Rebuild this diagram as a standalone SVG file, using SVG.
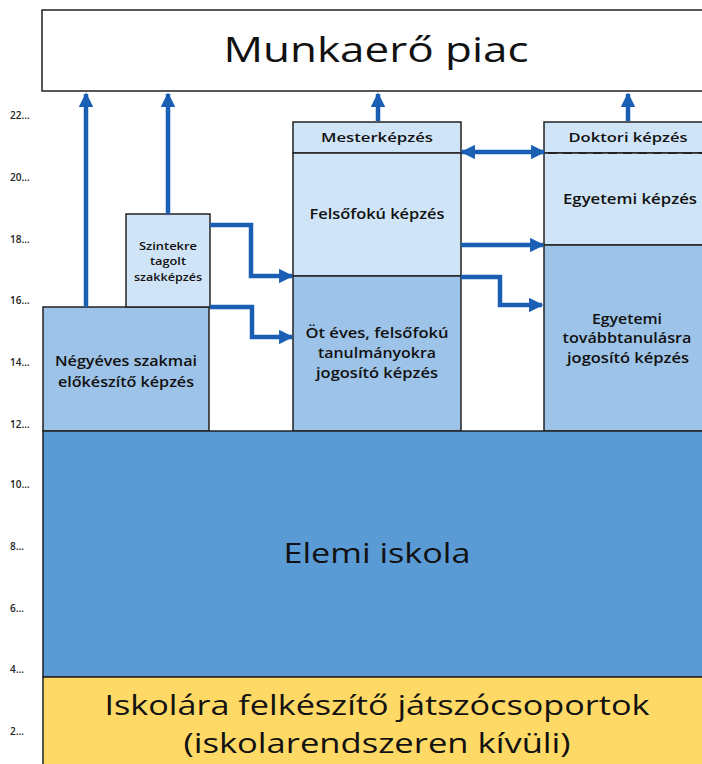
<svg xmlns="http://www.w3.org/2000/svg" width="702" height="764" viewBox="0 0 702 764">
<defs>
<style>
.box{stroke:#222;stroke-width:1.5}
.light{fill:#D0E4F7}
.mid{fill:#9DC3E8}
.t{font-family:"Open Sans","Liberation Sans",sans-serif;fill:#111;text-anchor:middle}
.s{font-weight:600}
.ax{font-family:"Open Sans","Liberation Sans",sans-serif;font-size:10px;font-weight:600;fill:#222}
.c{fill:none;stroke:#1A5FB4;stroke-width:4.5}
</style>
<marker id="ah" viewBox="0 0 10 10" refX="9" refY="5" markerWidth="3.4" markerHeight="3.2" orient="auto-start-reverse" markerUnits="strokeWidth">
<path d="M0,0 L10,5 L0,10 z" fill="#1A5FB4"/>
</marker>
</defs>
<rect width="702" height="764" fill="#fff"/>

<g id="axis">
<text class="ax" x="10" y="119">22…</text>
<text class="ax" x="10" y="181">20…</text>
<text class="ax" x="10" y="243">18…</text>
<text class="ax" x="10" y="304">16…</text>
<text class="ax" x="10" y="366">14…</text>
<text class="ax" x="10" y="428">12…</text>
<text class="ax" x="10" y="488">10…</text>
<text class="ax" x="10" y="550">8…</text>
<text class="ax" x="10" y="612">6…</text>
<text class="ax" x="10" y="673">4…</text>
<text class="ax" x="10" y="735">2…</text>
</g>

<g id="munkaero">
<rect class="box" x="42" y="10" width="670" height="81" fill="#fff"/>
<text class="t" x="376" y="62" font-size="34" textLength="305" lengthAdjust="spacingAndGlyphs">Munkaerő piac</text>
</g>

<g id="negyeves">
<rect class="box mid" x="43" y="307" width="166" height="124"/>
<text class="t s" x="126" y="366" font-size="14" textLength="142" lengthAdjust="spacingAndGlyphs">Négyéves szakmai</text>
<text class="t s" x="126" y="387" font-size="14" textLength="136" lengthAdjust="spacingAndGlyphs">előkészítő képzés</text>
</g>

<g id="szintekre">
<rect class="box light" x="126" y="214" width="84" height="93"/>
<text class="t s" x="168" y="250" font-size="11" textLength="58" lengthAdjust="spacingAndGlyphs">Szintekre</text>
<text class="t s" x="168" y="265" font-size="11" textLength="36" lengthAdjust="spacingAndGlyphs">tagolt</text>
<text class="t s" x="168" y="281" font-size="11" textLength="68" lengthAdjust="spacingAndGlyphs">szakképzés</text>
</g>

<g id="mesterkepzes">
<rect class="box light" x="293" y="122" width="168" height="31"/>
<text class="t s" x="377" y="142" font-size="13" textLength="112" lengthAdjust="spacingAndGlyphs">Mesterképzés</text>
</g>

<g id="felsofoku">
<rect class="box light" x="293" y="153" width="168" height="123"/>
<text class="t s" x="377" y="219" font-size="13.5" textLength="135" lengthAdjust="spacingAndGlyphs">Felsőfokú képzés</text>
</g>

<g id="oteves">
<rect class="box mid" x="293" y="276" width="168" height="155"/>
<text class="t s" x="377" y="338" font-size="13.5" textLength="143" lengthAdjust="spacingAndGlyphs">Öt éves, felsőfokú</text>
<text class="t s" x="377" y="358" font-size="13.5" textLength="118" lengthAdjust="spacingAndGlyphs">tanulmányokra</text>
<text class="t s" x="377" y="378" font-size="13.5" textLength="122" lengthAdjust="spacingAndGlyphs">jogosító képzés</text>
</g>

<g id="doktori">
<rect class="box light" x="544" y="122" width="170" height="31"/>
<text class="t s" x="628" y="142" font-size="13" textLength="119" lengthAdjust="spacingAndGlyphs">Doktori képzés</text>
</g>

<g id="egyetemi">
<rect class="box light" x="544" y="153" width="170" height="92"/>
<line x1="548" y1="153" x2="702" y2="153" stroke="#222" stroke-width="2" stroke-dasharray="9,6"/>
<text class="t s" x="630" y="204" font-size="13.5" textLength="134" lengthAdjust="spacingAndGlyphs">Egyetemi képzés</text>
</g>

<g id="tovabbtanulas">
<rect class="box mid" x="544" y="245" width="170" height="186"/>
<text class="t s" x="627" y="324" font-size="13.5" textLength="70" lengthAdjust="spacingAndGlyphs">Egyetemi</text>
<text class="t s" x="627" y="343" font-size="13.5" textLength="129" lengthAdjust="spacingAndGlyphs">továbbtanulásra</text>
<text class="t s" x="628" y="363" font-size="13.5" textLength="122" lengthAdjust="spacingAndGlyphs">jogosító képzés</text>
</g>

<g id="elemi">
<rect class="box" x="43" y="431" width="670" height="246" fill="#5B9BD5"/>
<text class="t" x="377" y="563" font-size="27" textLength="187" lengthAdjust="spacingAndGlyphs">Elemi iskola</text>
</g>

<g id="jatszocsoport">
<rect class="box" x="43" y="677" width="670" height="95" fill="#FFD966"/>
<text class="t" x="377" y="715" font-size="27" textLength="545" lengthAdjust="spacingAndGlyphs">Iskolára felkészítő játszócsoportok</text>
<text class="t" x="377" y="753" font-size="27" textLength="387" lengthAdjust="spacingAndGlyphs">(iskolarendszeren kívüli)</text>
</g>

<g id="connectors">
<path class="c" d="M86,307 V94" marker-end="url(#ah)"/>
<path class="c" d="M168,214 V94" marker-end="url(#ah)"/>
<path class="c" d="M378,121 V94" marker-end="url(#ah)"/>
<path class="c" d="M628,121 V94" marker-end="url(#ah)"/>
<path class="c" d="M210,225 H251 V276 H292" marker-end="url(#ah)"/>
<path class="c" d="M210,307 H252 V337 H292" marker-end="url(#ah)"/>
<path class="c" d="M462,152 H544" marker-start="url(#ah)" marker-end="url(#ah)"/>
<path class="c" d="M461,245 H543" marker-end="url(#ah)"/>
<path class="c" d="M461,277 H500 V305 H542" marker-end="url(#ah)"/>
</g>
</svg>
